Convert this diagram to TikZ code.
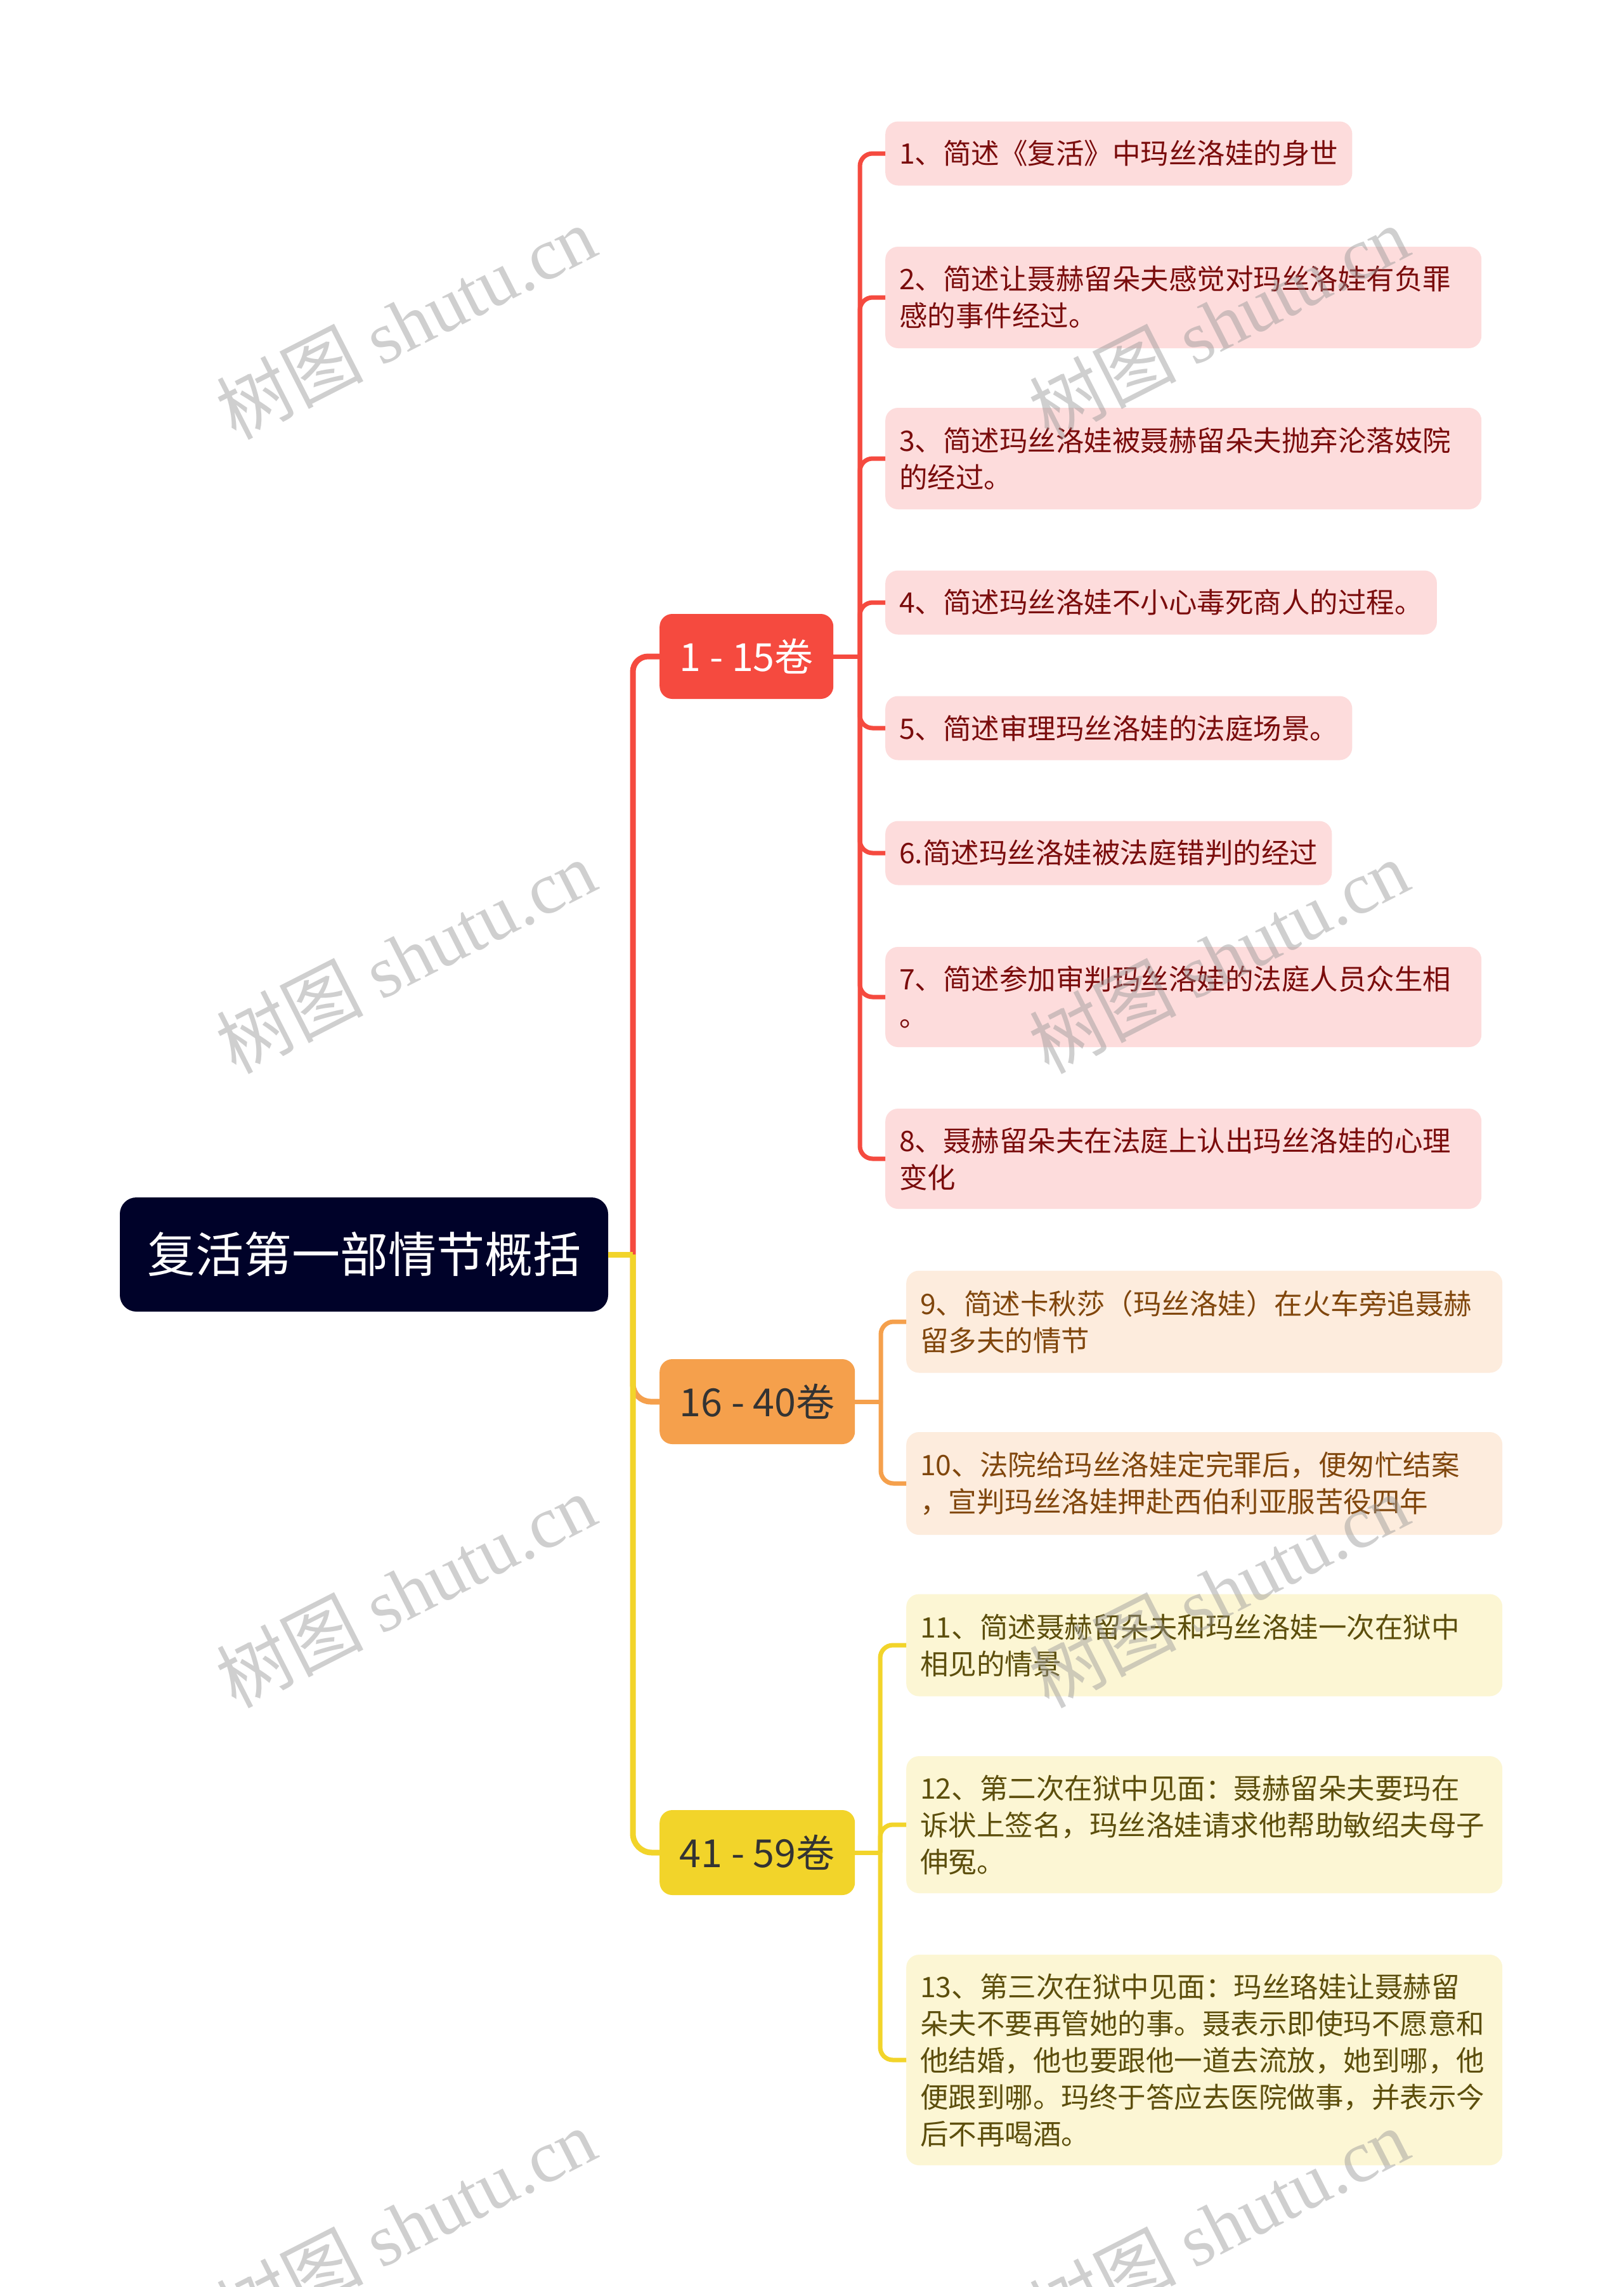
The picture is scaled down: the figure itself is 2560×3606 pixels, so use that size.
\documentclass[tikz,border=0pt]{standalone}
\usepackage{fontspec}
\setmainfont{Noto Sans CJK SC}
\newfontfamily\wmlatin{Liberation Serif}
\newfontfamily\wmcjk{Noto Sans CJK SC}
\definecolor{rootc}{RGB}{0,2,41}
\definecolor{redc}{RGB}{245,74,63}
\definecolor{orangec}{RGB}{245,160,76}
\definecolor{yellowc}{RGB}{242,212,42}
\definecolor{redfill}{RGB}{253,220,220}
\definecolor{orangefill}{RGB}{253,236,221}
\definecolor{yellowfill}{RGB}{252,246,212}
\definecolor{redtext}{RGB}{122,12,12}
\definecolor{orangetext}{RGB}{128,70,12}
\definecolor{yellowtext}{RGB}{92,78,12}
\definecolor{darktext}{RGB}{51,51,51}
\definecolor{wmgray}{RGB}{150,150,150}
\tikzset{
  rootbox/.style={rounded corners=26pt, fill=rootc, text=white, minimum width=770pt,
    minimum height=180pt, inner sep=0pt, font=\fontsize{76}{90}\selectfont},
  groupbox/.style={rounded corners=20pt, minimum height=134pt, inner sep=0pt, anchor=west,
    font=\fontsize{61}{70}\selectfont},
  leaf/.style={rounded corners=20pt, inner xsep=22pt, inner ysep=0pt, anchor=west,
    font=\fontsize{44.5}{58}\selectfont},
  wrap/.style={text width=896pt, align=left},
  redleaf/.style={leaf, fill=redfill, text=redtext},
  orangeleaf/.style={leaf, wrap, fill=orangefill, text=orangetext},
  yellowleaf/.style={leaf, wrap, fill=yellowfill, text=yellowtext},
  mainline/.style={line width=9pt},
  subline/.style={line width=7pt},
  wm/.style={text=wmgray, opacity=0.45, rotate=27, inner sep=0pt}
}
\begin{document}
\begin{tikzpicture}[x=1pt,y=-1pt]
\path[use as bounding box] (0,0) rectangle (2560,3606);
\clip (0,0) rectangle (2560,3606);
\fill[white] (0,0) rectangle (2560,3606);

% root and groups
\node[rootbox] (root) at (574,1978) {复活第一部情节概括};
\node[groupbox, fill=redc, text=white, minimum width=274pt] (g1) at (1040,1035) {1 - 15卷};
\node[groupbox, fill=orangec, text=darktext, minimum width=308pt] (g2) at (1040,2210) {16 - 40卷};
\node[groupbox, fill=yellowc, text=darktext, minimum width=308pt] (g3) at (1040,2921) {41 - 59卷};

% red leaves
\node[redleaf, minimum height=101pt] (c1) at (1396,242) {1、简述《复活》中玛丝洛娃的身世};
\node[redleaf, wrap, minimum height=160pt] (c2) at (1396,469) {2、简述让聂赫留朵夫感觉对玛丝洛娃有负罪\\感的事件经过。};
\node[redleaf, wrap, minimum height=160pt] (c3) at (1396,723) {3、简述玛丝洛娃被聂赫留朵夫抛弃沦落妓院\\的经过。};
\node[redleaf, minimum height=101pt] (c4) at (1396,950) {4、简述玛丝洛娃不小心毒死商人的过程。};
\node[redleaf, minimum height=101pt] (c5) at (1396,1148) {5、简述审理玛丝洛娃的法庭场景。};
\node[redleaf, minimum height=101pt] (c6) at (1396,1345) {6.简述玛丝洛娃被法庭错判的经过};
\node[redleaf, wrap, minimum height=158pt] (c7) at (1396,1572) {7、简述参加审判玛丝洛娃的法庭人员众生相\\。};
\node[redleaf, wrap, minimum height=158pt] (c8) at (1396,1827) {8、聂赫留朵夫在法庭上认出玛丝洛娃的心理\\变化};

% orange leaves
\node[orangeleaf, minimum height=161pt] (c9) at (1429,2084) {9、简述卡秋莎（玛丝洛娃）在火车旁追聂赫\\留多夫的情节};
\node[orangeleaf, minimum height=162pt] (c10) at (1429,2339) {10、法院给玛丝洛娃定完罪后，便匆忙结案\\，宣判玛丝洛娃押赴西伯利亚服苦役四年};

% yellow leaves
\node[yellowleaf, minimum height=161pt] (c11) at (1429,2594) {11、简述聂赫留朵夫和玛丝洛娃一次在狱中\\相见的情景};
\node[yellowleaf, minimum height=216pt] (c12) at (1429,2877) {12、第二次在狱中见面：聂赫留朵夫要玛在\\诉状上签名，玛丝洛娃请求他帮助敏绍夫母子\\伸冤。};
\node[yellowleaf, minimum height=332pt] (c13) at (1429,3248) {13、第三次在狱中见面：玛丝珞娃让聂赫留\\朵夫不要再管她的事。聂表示即使玛不愿意和\\他结婚，他也要跟他一道去流放，她到哪，他\\便跟到哪。玛终于答应去医院做事，并表示今\\后不再喝酒。};

% junction coordinates
\coordinate (rj) at (998,1978);
\coordinate (ja) at (1356,1035);
\coordinate (jb) at (1389,2210);
\coordinate (jc) at (1388,2921);

% main connectors
\draw[mainline, redc, rounded corners=24pt] (rj) |- (g1.west);
\draw[mainline, orangec, rounded corners=28pt] (rj) |- (g2.west);
\draw[mainline, yellowc, rounded corners=30pt] (rj) |- (g3.west);
\draw[mainline, yellowc] (root.east) -- (rj);

% red sub connectors
\draw[subline, redc] (g1.east) -- (ja);
\foreach \c in {c1,c2,c3,c4,c5,c6,c7,c8}
  \draw[subline, redc, rounded corners=20pt] (ja) |- (\c.west);
% orange sub connectors
\draw[subline, orangec] (g2.east) -- (jb);
\foreach \c in {c9,c10}
  \draw[subline, orangec, rounded corners=20pt] (jb) |- (\c.west);
% yellow sub connectors
\draw[subline, yellowc] (g3.east) -- (jc);
\foreach \c in {c11,c12,c13}
  \draw[subline, yellowc, rounded corners=20pt] (jc) |- (\c.west);

% watermarks
\foreach \wx/\wy/\wn in {640/508/w1, 1922/508/w2, 640/1508/w3, 1922/1508/w4, 640/2508/w5, 1922/2508/w6, 640/3508/w7, 1922/3508/w8}
  \node[wm] (\wn) at (\wx,\wy) {\fontsize{116}{126}\selectfont\wmcjk 树图 \wmlatin shutu.cn};
\end{tikzpicture}
\end{document}
